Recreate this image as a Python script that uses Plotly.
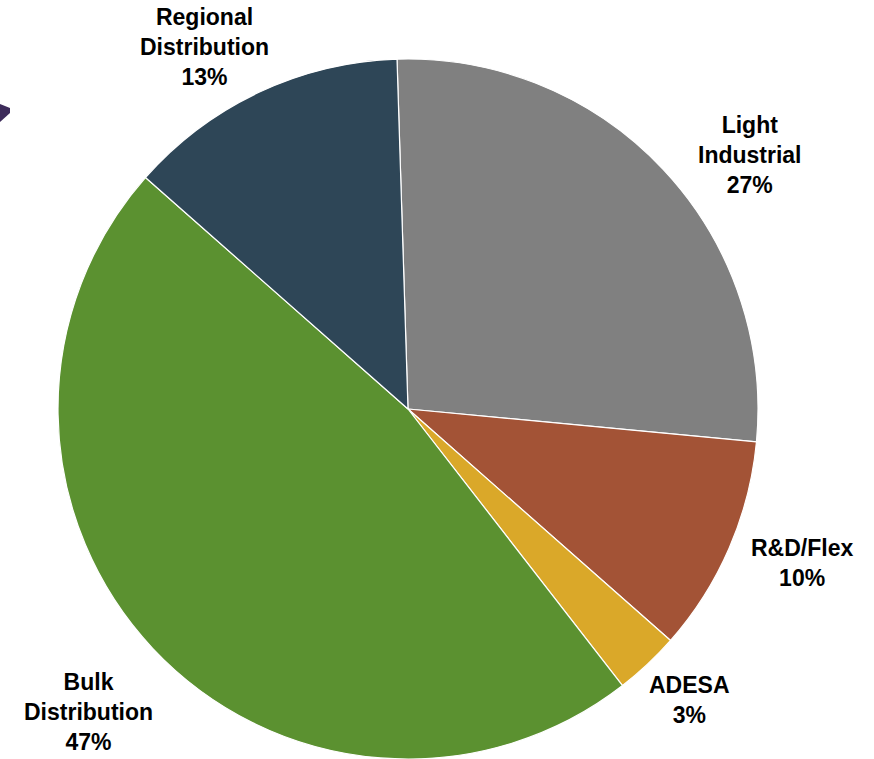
import plotly.graph_objects as go

# Data
categories = ["Light Industrial", "R&D/Flex", "ADESA", "Bulk Distribution", "Regional Distribution"]
label_lines = ["Light<br>Industrial", "R&D/Flex", "ADESA", "Bulk<br>Distribution", "Regional<br>Distribution"]
shares = [27, 10, 3, 47, 13]

# Style
colors = ["#808080", "#A35336", "#DAA829", "#5B9130", "#2E4657"]
W, H = 874, 759
# label centres (px) for the outside labels
label_pos = [(750, 155), (802, 563), (689, 700), (88, 712), (204, 47)]

fig = go.Figure(go.Pie(
    labels=categories,
    values=shares,
    sort=False,
    direction="clockwise",
    rotation=-1.8,
    marker=dict(colors=colors, line=dict(color="white", width=1.2)),
    textinfo="none",
    hoverinfo="skip",
    domain=dict(x=[57 / W, 759 / W], y=[0, 700 / H]),
    showlegend=False,
))

total = sum(shares)
for lab, v, (px, py) in zip(label_lines, shares, label_pos):
    fig.add_annotation(
        x=px / W, y=1 - py / H, xref="paper", yref="paper",
        text=f"<b>{lab}<br>{round(100 * v / total)}%</b>",
        showarrow=False, xanchor="center", yanchor="middle",
        font=dict(family="Liberation Sans, Arial, sans-serif", size=23, color="#000000"),
        align="center",
    )

# small purple arrow fragment at the left edge
fig.add_shape(
    type="path", xref="paper", yref="paper",
    path=f"M 0 {1 - 104 / H} L {10 / W} {1 - 108 / H} L {10 / W} {1 - 113 / H} L 0 {1 - 122 / H} Z",
    fillcolor="#3D2B5A", line=dict(width=0),
)

fig.update_layout(
    width=W, height=H,
    margin=dict(l=0, r=0, t=0, b=0),
    paper_bgcolor="white", plot_bgcolor="white",
)

fig.write_html("out.html")
